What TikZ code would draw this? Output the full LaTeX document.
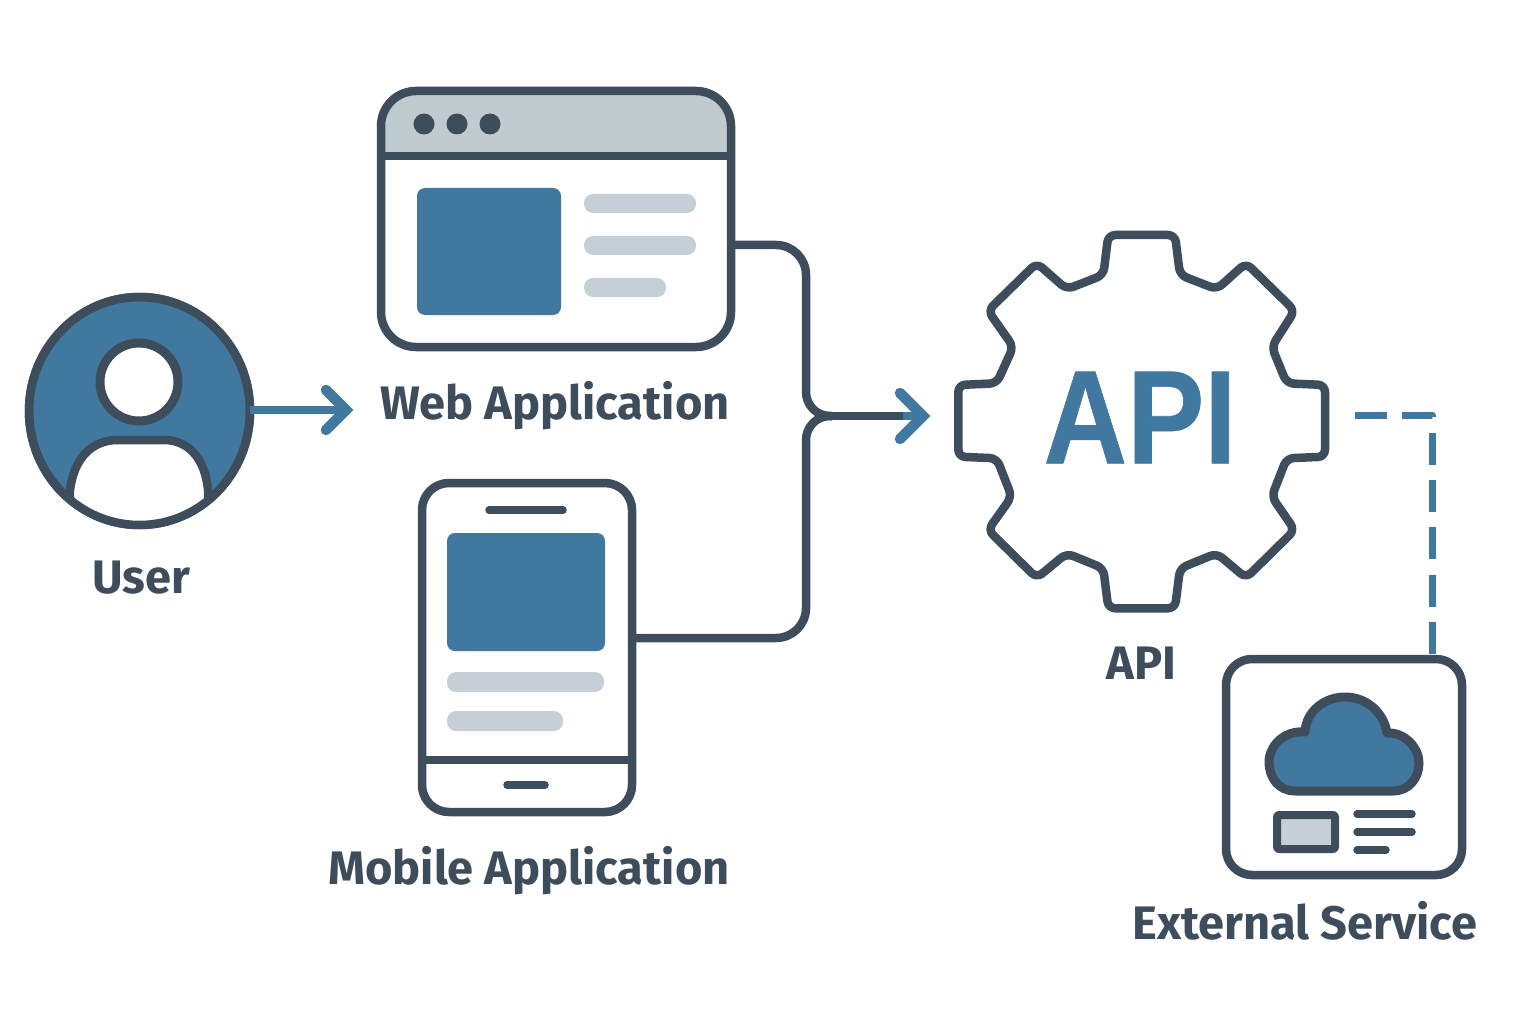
\documentclass[tikz,border=0pt]{standalone}
\usepackage{fontspec}
\setmainfont{Fira Sans}
\newfontface\apifont{Liberation Sans Bold}[FakeStretch=0.87,FakeBold=0.5]
\usetikzlibrary{positioning,shapes.geometric}
\definecolor{slatec}{HTML}{3D4D5C}
\definecolor{bluec}{HTML}{40789F}
\definecolor{greyc}{HTML}{C5D0D6}
\definecolor{barc}{HTML}{C0CBD0}

\begin{document}
\begin{tikzpicture} [x=1pt,y=-1pt,line join=round,
	   frame/.style 2 args = {rectangle, minimum width=#1, minimum height=#2,
	                          line width=8.5pt, draw=slatec, inner sep=0pt, outer sep=0pt},
	   caption/.style = {inner sep=0pt, outer sep=0pt, text=slatec, font=\fontsize{47}{47}\selectfont\bfseries,
	                     text height=34pt, text depth=10pt},
	   divider/.style = {line width=7.5pt, draw=slatec},
	   stub/.style = {line width=7.5pt, draw=slatec, line cap=round},
	   panel/.style = {fill=bluec, rounded corners=8pt},
	   bar/.style = {fill=greyc, rounded corners=9pt},
	   link/.style = {line width=8.5pt, draw=slatec},
	   arrowlink/.style = {line width=8pt, draw=bluec},
	   chevron/.style = {line width=10.5pt, draw=bluec, line cap=round, line join=miter},
	   dashlink/.style = {line width=7pt, draw=bluec, dash pattern=on 32pt off 15.3pt}]
	\path [use as bounding box, fill=white] (0,0) rectangle (1536,1024);

	%% User
	\node [ellipse, minimum width=221pt, minimum height=228pt, inner sep=0pt, outer sep=0pt,
	       line width=8.5pt, draw=slatec, fill=bluec] (user) at (139.5,411) {};
	\begin{scope}
		\clip (139.5,411) ellipse [x radius=110.5, y radius=114];
		\draw [line width=8.5pt, draw=slatec, fill=white] (68,560) -- (70,490)
			.. controls (74,458) and (92,440) .. (118,440) -- (164,440)
			.. controls (188,440) and (205,458) .. (208,490) -- (210,560) -- cycle;
	\end{scope}
	\draw [line width=8.5pt, draw=slatec] (139.5,411) ellipse [x radius=110.5, y radius=114];
	\node [circle, minimum size=78pt, inner sep=0pt, line width=9pt, draw=slatec, fill=white] (userhead) at (139,382) {};
	\node [caption, below=34pt of user, xshift=1.5pt] (usertext) {User};

	%% Web application
	\fill [barc] (381,156) [rounded corners=35pt] -- (381,91) -- (731,91) [sharp corners] -- (731,156) -- cycle;
	\node [frame={350pt}{256pt}, rounded corners=35pt] (web) at (556,219) {};
	\draw [divider] (web.west |- 0,156) -- (web.east |- 0,156);
	\foreach \dotx in {424,457,490}
		\fill [slatec] (\dotx,124) circle [radius=10.5];
	\fill [panel] (417,188) rectangle (561,315);
	\fill [bar] (584,194) rectangle (696,213);
	\fill [bar] (584,236) rectangle (696,255);
	\fill [bar] (584,278) rectangle (666,297);
	\node [caption, below=38pt of web, xshift=-1pt] (webtext) {Web Application};

	%% Mobile application
	\node [frame={210pt}{329pt}, rounded corners=27pt] (mobile) at (527,647.5) {};
	\draw [stub] (489,510) -- (563,510);
	\fill [panel] (447,533) rectangle (605,651);
	\fill [bar] (447,672) rectangle (604,692);
	\fill [bar] (447,711) rectangle (563,731);
	\draw [divider] (mobile.west |- 0,760) -- (mobile.east |- 0,760);
	\draw [stub] (507,785) -- (545,785);
	\node [caption, below=38pt of mobile, xshift=2pt] (mobiletext) {Mobile Application};

	%% API
	\node [minimum width=367pt, minimum height=373pt, inner sep=0pt, outer sep=0pt] (gear) at (1141.7,421.7) {};
	\draw [line width=8.5pt, draw=slatec, rounded corners=7pt] (1103.3,275) -- (1108.3,235) -- (1175,235) -- (1180,275)
		-- (1216.7,289.3) -- (1246,263) -- (1294.7,310.7) -- (1271.7,346.7) -- (1286.7,383.3) -- (1325,385)
		-- (1325,456.7) -- (1286.7,458.3) -- (1271.7,496.7) -- (1294.7,530) -- (1246,578) -- (1216.7,553.3)
		-- (1180,568.3) -- (1175,608.3) -- (1108.3,608.3) -- (1103.3,568.3) -- (1066.7,553.3) -- (1036.7,578)
		-- (988,530) -- (1011.7,496.7) -- (996.7,458.3) -- (958.3,456.7) -- (958.3,385) -- (996.7,383.3)
		-- (1013.3,346.7) -- (988,310.7) -- (1036.7,263) -- (1066.7,289.3) -- cycle;
	\node [inner sep=0pt, text=bluec, font=\fontsize{133}{133}\apifont] (apimark) at (1140,417.5) {API};
	\node [caption, below=37pt of gear] (apitext) {API};

	%% External service
	\node [frame={236pt}{216pt}, rounded corners=26pt] (service) at (1344,767) {};
	\draw [line width=9pt, draw=slatec, fill=bluec] (1295,791)
		.. controls (1279,791) and (1269,778) .. (1269,762)
		.. controls (1269,747) and (1283,730) .. (1305,732)
		.. controls (1306,711) and (1325,697) .. (1345,697)
		.. controls (1367,697) and (1384,713) .. (1387,733)
		.. controls (1405,732) and (1419,748) .. (1419,763)
		.. controls (1419,778) and (1409,791) .. (1393,791) -- cycle;
	\draw [line width=8pt, draw=slatec, fill=greyc, rounded corners=2pt] (1277,815) rectangle (1335,849);
	\draw [stub] (1357,814) -- (1412,814);
	\draw [stub] (1357,832) -- (1412,832);
	\draw [stub] (1357,850) -- (1386,850);
	\node [caption, below=30pt of service, xshift=-39pt] (servicetext) {External Service};

	%% Connectors
	\coordinate (userout) at (346,410);
	\coordinate (webout) at (731,245);
	\coordinate (mobileout) at (632,638);
	\coordinate (merge) at (832,416);
	\coordinate (apifade) at (903,416);
	\coordinate (apiin) at (923,416);
	\coordinate (apiout) at (1355,415);
	\coordinate (servicein) at (1432,657);
	\draw [arrowlink] (user.east |- userout) -- (userout);
	\draw [chevron] (userout) ++(-20,-20) -- (userout) -- ++(-20,20);
	\draw [link, rounded corners=30pt] (webout) -- (806,245) -- (806,330) [rounded corners=24pt] -- (806,416) -- (merge);
	\draw [link, rounded corners=30pt] (mobileout) -- (806,638) -- (806,500) [rounded corners=24pt] -- (806,416) -- (merge);
	\draw [link] (merge) -- (apifade);
	\draw [arrowlink] (apifade) -- (apiin);
	\draw [chevron] (apiin) ++(-23,-23) -- (apiin) -- ++(-23,23);
	\draw [dashlink] (apiout) -| (servicein);
\end{tikzpicture}
\end{document}
